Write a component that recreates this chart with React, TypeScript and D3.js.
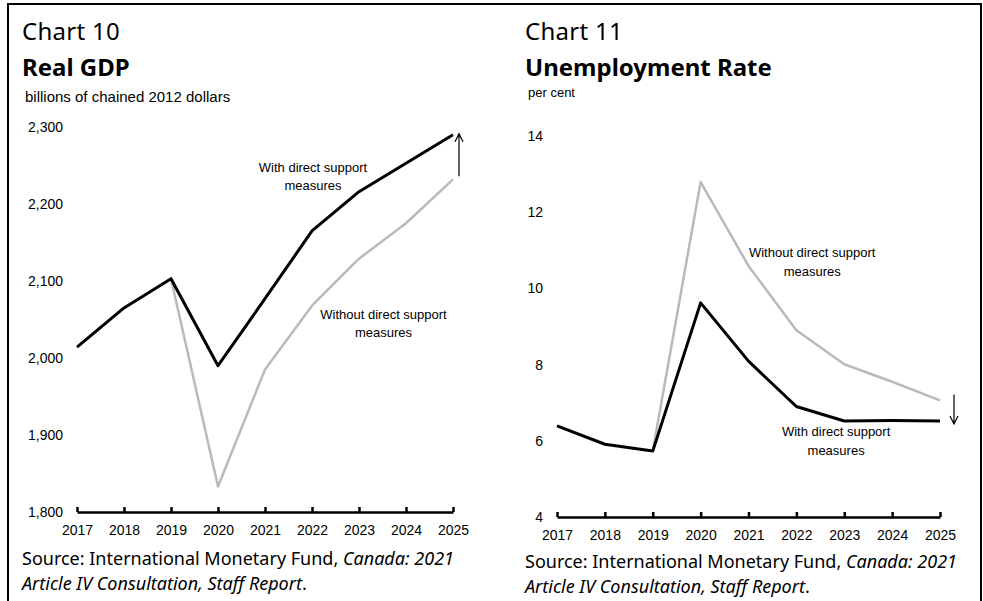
import { useRef, useEffect } from "react";
import * as d3 from "d3";

const years = [2017, 2018, 2019, 2020, 2021, 2022, 2023, 2024, 2025];

// Chart 10 - real GDP, billions of chained 2012 dollars
const gdpWith = [2014, 2065, 2103, 1990, 2077, 2165, 2216, 2253, 2290];
const gdpWithout = [null, null, 2103, 1833, 1985, 2068, 2129, 2175, 2232];
const gdpTicks = [1800, 1900, 2000, 2100, 2200, 2300];

// Chart 11 - unemployment rate, per cent
const unempWith = [6.39, 5.91, 5.73, 9.62, 8.09, 6.9, 6.52, 6.53, 6.52];
const unempWithout = [null, null, 5.73, 12.79, 10.59, 8.9, 8.01, 7.55, 7.06];
const unempTicks = [4, 6, 8, 10, 12, 14];

const TITLE_FONT = "'Noto Sans', 'Open Sans', sans-serif";
const ARIAL = "'Liberation Sans', Arial, sans-serif";
const GREY = "#bababa";

type Panel = {
  left: number;
  number: string;
  title: string;
  unit: string;
  unitSize: number;
  unitY: number;
  x0: number;
  x1: number;
  yTop: number;
  yBottom: number;
  domain: [number, number];
  ticks: number[];
  tickFmt: (v: number) => string;
  labelX: number;
  withSeries: (number | null)[];
  withoutSeries: (number | null)[];
  sourceY: number;
};

function drawPanel(svg: d3.Selection<SVGSVGElement, unknown, null, undefined>, p: Panel, kind: "gdp" | "unemp") {
  const g = svg.append("g");

  const x = d3.scaleLinear().domain([2017, 2025]).range([p.x0, p.x1]);
  const y = d3.scaleLinear().domain(p.domain).range([p.yBottom, p.yTop]);

  // headings
  g.append("text")
    .attr("x", p.left)
    .attr("y", 40)
    .attr("font-family", TITLE_FONT)
    .attr("font-size", 24)
    .attr("letter-spacing", 0.3)
    .text(p.number);
  g.append("text")
    .attr("x", p.left)
    .attr("y", 76)
    .attr("font-family", TITLE_FONT)
    .attr("font-weight", "bold")
    .attr("font-size", 24)
    .text(p.title);
  g.append("text")
    .attr("x", p.left + 3)
    .attr("y", p.unitY)
    .attr("font-family", ARIAL)
    .attr("font-size", p.unitSize)
    .text(p.unit);

  // y labels (no axis line)
  const yAxis = g
    .append("g")
    .attr("transform", `translate(${p.labelX},0)`)
    .call(d3.axisLeft(y).tickValues(p.ticks).tickSize(0).tickPadding(0).tickFormat(p.tickFmt as any));
  yAxis.select(".domain").remove();
  yAxis.selectAll("text").attr("font-family", ARIAL).attr("font-size", 14).attr("fill", "#000");

  // x axis with ticks pointing up
  const xAxis = g
    .append("g")
    .attr("transform", `translate(0,${p.yBottom})`)
    .call(
      d3
        .axisBottom(x)
        .tickValues(years)
        .tickFormat(d3.format("d") as any)
        .tickSizeInner(-5)
        .tickSizeOuter(0)
        .tickPadding(13)
    );
  xAxis.select(".domain").attr("stroke", "#000").attr("stroke-width", 2.5);
  xAxis.selectAll("line").attr("stroke", "#000").attr("stroke-width", 2.5);
  xAxis.selectAll("text").attr("font-family", ARIAL).attr("font-size", 14).attr("fill", "#000");

  const line = d3
    .line<number | null>()
    .defined((d) => d != null)
    .x((_, i) => x(years[i]))
    .y((d) => y(d as number));

  g.append("path")
    .attr("d", line(p.withoutSeries))
    .attr("fill", "none")
    .attr("stroke", GREY)
    .attr("stroke-width", 2.5)
    .attr("stroke-linejoin", "round");
  g.append("path")
    .attr("d", line(p.withSeries))
    .attr("fill", "none")
    .attr("stroke", "#000")
    .attr("stroke-width", 3)
    .attr("stroke-linejoin", "round");

  // arrow between the two 2025 values
  const last = years.length - 1;
  const ax = x(2025) + (kind === "gdp" ? 6 : 14);
  const yFrom = y(p.withoutSeries[last] as number) + (kind === "gdp" ? -3 : -6);
  const yTo = y(p.withSeries[last] as number) + (kind === "gdp" ? -1 : 3);
  const dir = yTo < yFrom ? 1 : -1;
  g.append("path")
    .attr("d", `M${ax},${yFrom}L${ax},${yTo}M${ax - 4},${yTo + dir * 8}L${ax},${yTo}L${ax + 4},${yTo + dir * 8}`)
    .attr("fill", "none")
    .attr("stroke", "#000")
    .attr("stroke-width", 1.2);

  // annotations
  const notes =
    kind === "gdp"
      ? [
          { lines: ["With direct support", "measures"], cx: x(2022) + 1, by: y(2242) },
          { lines: ["Without direct support", "measures"], cx: x(2023.5) + 1, by: y(2051) },
        ]
      : [
          { lines: ["Without direct support", "measures"], cx: x(2022.33), by: y(10.82) },
          { lines: ["With direct support", "measures"], cx: x(2022.83), by: y(6.12) },
        ];
  notes.forEach((n) => {
    n.lines.forEach((t, i) => {
      g.append("text")
        .attr("x", n.cx)
        .attr("y", n.by + i * 18.5)
        .attr("text-anchor", "middle")
        .attr("font-family", ARIAL)
        .attr("font-size", 13)
        .text(t);
    });
  });

  // source note
  const s1 = g
    .append("text")
    .attr("x", p.left)
    .attr("y", p.sourceY)
    .attr("font-family", TITLE_FONT)
    .attr("font-size", 18);
  s1.append("tspan").text("Source: International Monetary Fund, ");
  s1.append("tspan").attr("font-style", "italic").text("Canada: 2021");
  const s2 = g
    .append("text")
    .attr("x", p.left)
    .attr("y", p.sourceY + 25)
    .attr("font-family", TITLE_FONT)
    .attr("font-size", 18);
  s2.append("tspan").attr("font-style", "italic").text("Article IV Consultation, Staff Report");
  s2.append("tspan").text(".");
}

function App() {
  const svgRef = useRef<SVGSVGElement>(null);

  useEffect(() => {
    if (!svgRef.current) return;
    const svg = d3.select(svgRef.current);
    svg.selectAll("*").remove();

    svg
      .append("rect")
      .attr("x", 8)
      .attr("y", 4)
      .attr("width", 973)
      .attr("height", 640)
      .attr("fill", "#fff")
      .attr("stroke", "#000")
      .attr("stroke-width", 2);

    drawPanel(
      svg,
      {
        left: 22,
        number: "Chart 10",
        title: "Real GDP",
        unit: "billions of chained 2012 dollars",
        unitSize: 15,
        unitY: 102,
        x0: 77,
        x1: 453,
        yTop: 127,
        yBottom: 512,
        domain: [1800, 2300],
        ticks: gdpTicks,
        tickFmt: d3.format(","),
        labelX: 63,
        withSeries: gdpWith,
        withoutSeries: gdpWithout,
        sourceY: 565,
      },
      "gdp"
    );

    drawPanel(
      svg,
      {
        left: 525,
        number: "Chart 11",
        title: "Unemployment Rate",
        unit: "per cent",
        unitSize: 13,
        unitY: 97,
        x0: 557,
        x1: 940,
        yTop: 136,
        yBottom: 517,
        domain: [4, 14],
        ticks: unempTicks,
        tickFmt: d3.format("d"),
        labelX: 543,
        withSeries: unempWith,
        withoutSeries: unempWithout,
        sourceY: 568,
      },
      "unemp"
    );
  }, []);

  return (
    <svg
      ref={svgRef}
      width={983}
      height={601}
      style={{ position: "absolute", top: 0, left: 0, display: "block", background: "#fff" }}
    />
  );
}

export default App;
